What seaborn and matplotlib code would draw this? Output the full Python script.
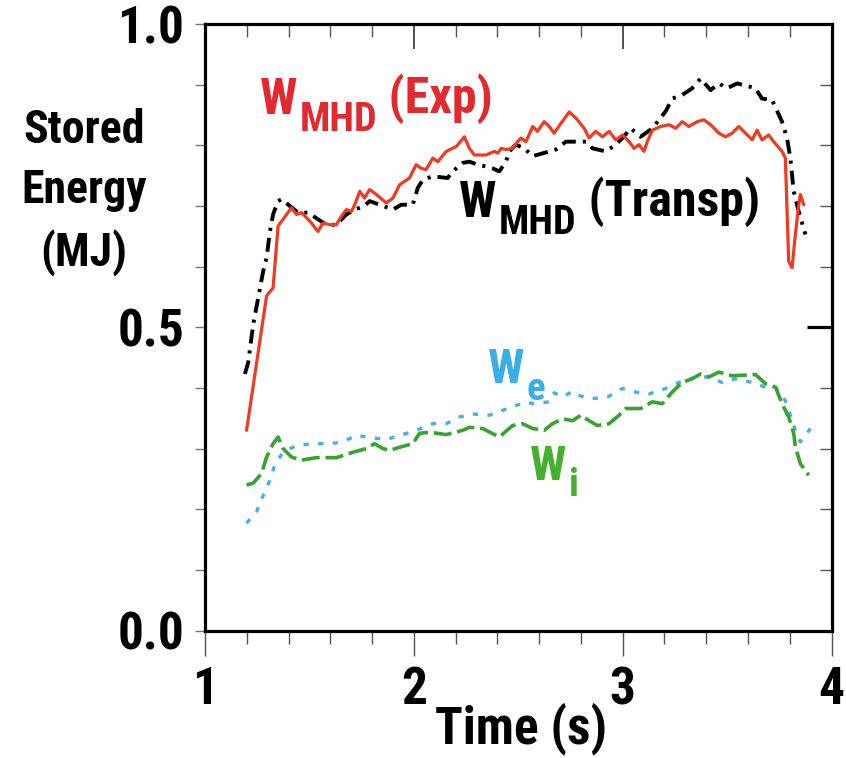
import os
import matplotlib
matplotlib.use("Agg")
import matplotlib.pyplot as plt
from matplotlib import font_manager
from matplotlib.font_manager import FontProperties
from matplotlib.ticker import MultipleLocator
import pandas as pd
import seaborn as sns

# ---------------------------------------------------------------- data
# Measured stored energy (MHD equilibrium reconstruction)
t_exp = [1.199, 1.295, 1.326, 1.350, 1.374, 1.414, 1.438, 1.462, 1.502, 1.541,
         1.565, 1.597, 1.629, 1.653, 1.677, 1.701, 1.717, 1.741, 1.764, 1.788,
         1.820, 1.868, 1.900, 1.932, 1.979, 2.011, 2.035, 2.059, 2.091, 2.115,
         2.155, 2.203, 2.242, 2.266, 2.290, 2.346, 2.386, 2.401, 2.418, 2.441,
         2.473, 2.497, 2.513, 2.537, 2.569, 2.592, 2.624, 2.648, 2.672, 2.704,
         2.744, 2.776, 2.816, 2.839, 2.871, 2.903, 2.935, 2.967, 2.999, 3.031,
         3.054, 3.078, 3.102, 3.118, 3.142, 3.182, 3.222, 3.254, 3.285, 3.317,
         3.357, 3.389, 3.421, 3.461, 3.493, 3.524, 3.556, 3.588, 3.620, 3.644,
         3.667, 3.699, 3.723, 3.763, 3.779, 3.795, 3.811, 3.827, 3.843, 3.851,
         3.867]
w_exp = [0.330, 0.552, 0.565, 0.667, 0.678, 0.697, 0.686, 0.689, 0.675, 0.658,
         0.672, 0.669, 0.669, 0.683, 0.694, 0.691, 0.702, 0.724, 0.713, 0.727,
         0.719, 0.705, 0.713, 0.735, 0.746, 0.768, 0.762, 0.760, 0.779, 0.773,
         0.790, 0.798, 0.814, 0.795, 0.784, 0.784, 0.790, 0.787, 0.795, 0.793,
         0.795, 0.806, 0.812, 0.806, 0.831, 0.823, 0.839, 0.831, 0.820, 0.836,
         0.855, 0.845, 0.828, 0.812, 0.823, 0.814, 0.823, 0.809, 0.817, 0.806,
         0.795, 0.801, 0.790, 0.806, 0.825, 0.831, 0.834, 0.828, 0.839, 0.831,
         0.839, 0.842, 0.834, 0.820, 0.814, 0.820, 0.831, 0.820, 0.809, 0.825,
         0.809, 0.817, 0.806, 0.790, 0.779, 0.609, 0.598, 0.653, 0.702, 0.719,
         0.702]

# TRANSP simulated stored energy
t_tr = [1.191, 1.207, 1.231, 1.255, 1.279, 1.295, 1.311, 1.326, 1.350, 1.366,
        1.446, 1.494, 1.541, 1.581, 1.629, 1.677, 1.717, 1.764, 1.788, 1.900,
        1.940, 1.995, 2.019, 2.043, 2.091, 2.162, 2.186, 2.234, 2.266, 2.306,
        2.346, 2.377, 2.409, 2.441, 2.457, 2.489, 2.529, 2.569, 2.680, 2.728,
        2.824, 2.855, 2.919, 2.967, 2.999, 3.039, 3.086, 3.142, 3.206, 3.237,
        3.285, 3.333, 3.373, 3.421, 3.461, 3.500, 3.548, 3.604, 3.636, 3.667,
        3.715, 3.763, 3.787, 3.803, 3.819, 3.843, 3.875]
w_tr = [0.423, 0.442, 0.505, 0.549, 0.593, 0.615, 0.658, 0.686, 0.708, 0.711,
        0.689, 0.689, 0.678, 0.669, 0.669, 0.686, 0.694, 0.700, 0.708, 0.694,
        0.702, 0.702, 0.730, 0.743, 0.749, 0.746, 0.757, 0.771, 0.773, 0.768,
        0.765, 0.762, 0.757, 0.773, 0.790, 0.801, 0.795, 0.782, 0.793, 0.806,
        0.806, 0.795, 0.790, 0.801, 0.812, 0.828, 0.814, 0.828, 0.856, 0.877,
        0.883, 0.894, 0.910, 0.891, 0.902, 0.894, 0.902, 0.897, 0.894, 0.877,
        0.875, 0.839, 0.812, 0.779, 0.724, 0.691, 0.653]

# Electron stored energy
t_e = [1.199, 1.247, 1.279, 1.311, 1.334, 1.374, 1.438, 1.517, 1.597, 1.661,
       1.725, 1.788, 1.868, 1.947, 2.011, 2.091, 2.155, 2.218, 2.282, 2.362,
       2.425, 2.489, 2.537, 2.569, 2.648, 2.672, 2.712, 2.758, 2.784, 2.848,
       2.927, 2.999, 3.063, 3.126, 3.206, 3.269, 3.349, 3.413, 3.476, 3.540,
       3.620, 3.684, 3.732, 3.779, 3.803, 3.827, 3.851, 3.899]
w_e = [0.177, 0.196, 0.223, 0.248, 0.273, 0.294, 0.305, 0.308, 0.308, 0.311,
       0.322, 0.318, 0.315, 0.323, 0.330, 0.341, 0.341, 0.352, 0.357, 0.355,
       0.363, 0.371, 0.377, 0.374, 0.377, 0.392, 0.385, 0.394, 0.388, 0.382,
       0.385, 0.399, 0.393, 0.390, 0.399, 0.409, 0.418, 0.418, 0.409, 0.415,
       0.409, 0.401, 0.401, 0.379, 0.355, 0.330, 0.311, 0.333]

# Ion stored energy
t_i = [1.199, 1.231, 1.271, 1.295, 1.326, 1.350, 1.374, 1.414, 1.462, 1.534,
       1.629, 1.709, 1.773, 1.812, 1.852, 1.884, 1.940, 1.995, 2.027, 2.075,
       2.155, 2.234, 2.266, 2.330, 2.409, 2.473, 2.521, 2.569, 2.624, 2.664,
       2.712, 2.760, 2.800, 2.839, 2.879, 2.935, 2.983, 3.015, 3.086, 3.142,
       3.190, 3.237, 3.285, 3.333, 3.373, 3.413, 3.461, 3.524, 3.636, 3.684,
       3.732, 3.763, 3.795, 3.819, 3.827, 3.851, 3.891]
w_i = [0.240, 0.243, 0.259, 0.286, 0.308, 0.319, 0.300, 0.286, 0.281, 0.285,
       0.285, 0.294, 0.300, 0.308, 0.300, 0.297, 0.303, 0.308, 0.325, 0.327,
       0.323, 0.330, 0.335, 0.333, 0.319, 0.338, 0.341, 0.333, 0.330, 0.341,
       0.349, 0.346, 0.355, 0.346, 0.338, 0.341, 0.355, 0.366, 0.366, 0.377,
       0.374, 0.393, 0.409, 0.415, 0.423, 0.418, 0.426, 0.420, 0.422, 0.407,
       0.401, 0.374, 0.352, 0.325, 0.303, 0.275, 0.256]

x_ticks = [1, 2, 3, 4]
x_tick_labels = ["1", "2", "3", "4"]
y_ticks = [0.0, 0.5, 1.0]
y_tick_labels = ["0.0", "0.5", "1.0"]

# ---------------------------------------------------------------- style
sns.set_theme(style="white")
plt.rcParams["font.family"] = ["Liberation Sans", "DejaVu Sans"]
plt.rcParams["text.color"] = "black"
plt.rcParams["axes.labelcolor"] = "black"


def pick_narrow_bold():
    """Prefer a narrow / condensed bold sans face; fall back to Liberation Sans Bold."""
    entries = font_manager.fontManager.ttflist
    keys = ["LiberationSansNarrow-Bold", "RobotoCondensed-Bold", "NotoSans-CondensedBold",
            "OpenSans-CondensedBold", "OpenSans_Condensed-Bold", "DejaVuSansCondensed-Bold",
            "NotoSans-SemiCondensedBold", "OpenSans-SemiCondensedBold"]
    files = {os.path.splitext(os.path.basename(f.fname))[0]: f.fname for f in entries}
    for k in keys:
        if k in files:
            return FontProperties(fname=files[k])
    for f in entries:
        base = os.path.basename(f.fname).lower()
        if ("narrow" in base or "condensed" in base) and "bold" in base and "italic" not in base \
                and "semibold" not in base and "extrabold" not in base:
            return FontProperties(fname=f.fname)
    return FontProperties(family="Liberation Sans", weight="bold")


FP = pick_narrow_bold()


def fp(size):
    p = FP.copy()
    p.set_size(size)
    return p


RED_LINE = "#ee3b22"
RED_TEXT = "#e2292e"
BLUE_LINE = "#45b0e6"
BLUE_TEXT = "#3aaee6"
GREEN_LINE = "#37a330"
GREEN_TEXT = "#44b02f"

fig = plt.figure(figsize=(8.46, 7.58), dpi=100)
W, H = 846, 758
left, right, top, bottom = 205, 831.5, 24, 630.5
ax = fig.add_axes([left / W, 1 - bottom / H, (right - left) / W, (bottom - top) / H])

# ---------------------------------------------------------------- curves
df_e = pd.DataFrame({"t": t_e, "w": w_e})
df_i = pd.DataFrame({"t": t_i, "w": w_i})
df_tr = pd.DataFrame({"t": t_tr, "w": w_tr})
df_exp = pd.DataFrame({"t": t_exp, "w": w_exp})

sns.lineplot(data=df_e, x="t", y="w", ax=ax, color=BLUE_LINE, lw=2.4,
             estimator=None, sort=False, linestyle=(0, (1.6, 2.8)))
sns.lineplot(data=df_i, x="t", y="w", ax=ax, color=GREEN_LINE, lw=2.6,
             estimator=None, sort=False, linestyle=(0, (5.0, 1.6)))
sns.lineplot(data=df_tr, x="t", y="w", ax=ax, color="black", lw=2.8,
             estimator=None, sort=False, linestyle=(0, (3.6, 1.8, 0.8, 1.8)))
sns.lineplot(data=df_exp, x="t", y="w", ax=ax, color=RED_LINE, lw=2.3,
             estimator=None, sort=False)

# ---------------------------------------------------------------- axes
ax.set_xlim(1, 4)
ax.set_ylim(0, 1.0)
for s in ax.spines.values():
    s.set_visible(True)
    s.set_color("black")
    s.set_linewidth(2.3)

ax.set_xticks(x_ticks)
ax.set_xticklabels(x_tick_labels)
ax.set_yticks(y_ticks)
ax.set_yticklabels(y_tick_labels)
ax.xaxis.set_minor_locator(MultipleLocator(0.2))
ax.yaxis.set_minor_locator(MultipleLocator(0.1))
for lab in ax.get_xticklabels() + ax.get_yticklabels():
    lab.set_fontproperties(fp(37))
    lab.set_color("black")

# bottom ticks point outward, left ticks are short outward marks
ax.tick_params(axis="x", which="major", direction="out", length=18, width=1.0,
               color="#555555", pad=7, top=False, bottom=True)
ax.tick_params(axis="x", which="minor", direction="out", length=9.5, width=1.0,
               color="#555555", top=False, bottom=True)
ax.tick_params(axis="y", which="both", direction="out", length=7, width=1.0,
               color="#777777", pad=8, left=True, right=False)

# mirrored ticks on top and right, pointing inward
ax_top = ax.secondary_xaxis("top")
ax_top.set_xticks(x_ticks)
ax_top.set_xticklabels([])
ax_top.xaxis.set_minor_locator(MultipleLocator(0.2))
ax_top.tick_params(axis="x", which="major", direction="in", length=18, width=1.2, color="#333333")
ax_top.tick_params(axis="x", which="minor", direction="in", length=9.5, width=1.0, color="#555555")
ax_top.spines["top"].set_visible(False)

ax_right = ax.secondary_yaxis("right")
ax_right.set_yticks([0.5])
ax_right.set_yticklabels([])
ax_right.yaxis.set_minor_locator(MultipleLocator(0.1))
ax_right.tick_params(axis="y", which="major", direction="in", length=18, width=2.3, color="black")
ax_right.tick_params(axis="y", which="minor", direction="in", length=9, width=1.0, color="#555555")
ax_right.spines["right"].set_visible(False)

ax.set_xlabel("Time (s)", fontproperties=fp(37), color="black")
ax.xaxis.set_label_coords(0.505, -0.119)
ax.set_ylabel("")
ax.grid(False)

fig.text(84 / W, 1 - 192 / H, "Stored\nEnergy\n(MJ)", ha="center", va="center",
         fontproperties=fp(33), linespacing=1.45, color="black")


# ---------------------------------------------------------------- curve labels
def curve_label(x, y, base, sub, tail, color, fs, sub_scale=0.8, drop=0.3):
    t0 = ax.text(x, y, base, color=color, fontproperties=fp(fs), ha="left", va="bottom")
    t1 = ax.annotate(sub, xy=(1, 0), xycoords=t0, xytext=(1.5, -fs * drop),
                     textcoords="offset points", color=color,
                     fontproperties=fp(fs * sub_scale), ha="left", va="bottom")
    if tail:
        ax.annotate(tail, xy=(1, 0), xycoords=t1, xytext=(0, fs * drop),
                    textcoords="offset points", color=color,
                    fontproperties=fp(fs), ha="left", va="bottom")


curve_label(1.262, 0.835, "W", "MHD", " (Exp)", RED_TEXT, 36)
curve_label(2.218, 0.665, "W", "MHD", " (Transp)", "black", 36)
curve_label(2.357, 0.391, "W", "e", "", BLUE_TEXT, 35)
curve_label(2.558, 0.232, "W", "i", "", GREEN_TEXT, 35)

fig.savefig("out.png", dpi=100)
